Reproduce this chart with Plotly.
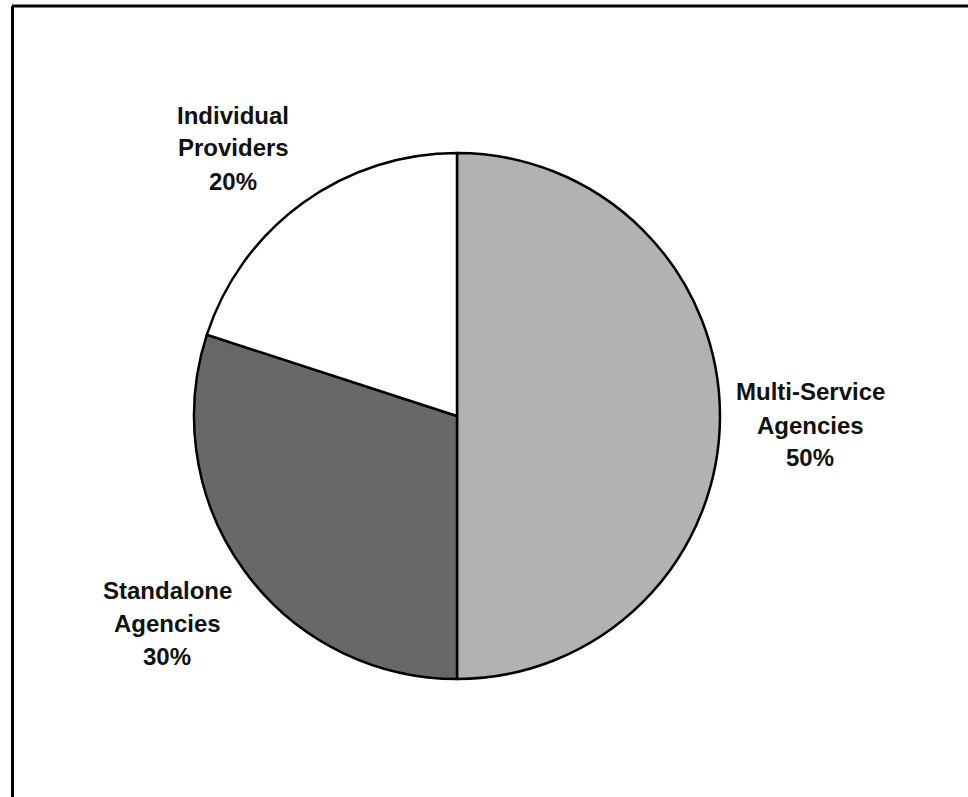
import plotly.graph_objects as go

# Data
categories = ["Multi-Service Agencies", "Standalone Agencies", "Individual Providers"]
shares = [50, 30, 20]

# Styles
slice_colors = ["#b2b2b2", "#686868", "#ffffff"]
label_pos = [(810, 425), (167, 623), (233, 148)]  # pixel centres of the label blocks
line_gap = 33

W, H = 968, 797
cx, cy, r = 457, 416, 263

fig = go.Figure(go.Pie(
    labels=categories,
    values=shares,
    sort=False,
    direction="clockwise",
    rotation=0,
    textinfo="none",
    hoverinfo="label+percent",
    marker=dict(colors=slice_colors, line=dict(color="#000000", width=2.5)),
    domain=dict(x=[(cx - r) / W, (cx + r) / W], y=[(H - cy - r) / H, (H - cy + r) / H]),
    showlegend=False,
))

annotations = []
for name, val, (px, py) in zip(categories, shares, label_pos):
    lines = name.split(" ") + [f"{val}%"]
    n = len(lines)
    for i, line in enumerate(lines):
        ly = py + (i - (n - 1) / 2) * line_gap
        annotations.append(dict(
            x=px / W, y=1 - ly / H, xref="paper", yref="paper",
            text=line, showarrow=False, xanchor="center", yanchor="middle",
            align="center",
            font=dict(family="Liberation Sans", size=24, color="#111111", weight="bold"),
        ))

shapes = [
    dict(type="line", xref="paper", yref="paper", x0=12 / W, x1=1, y0=1 - 6 / H, y1=1 - 6 / H,
         line=dict(color="#000000", width=3)),
    dict(type="line", xref="paper", yref="paper", x0=12.5 / W, x1=12.5 / W, y0=0, y1=1 - 6 / H,
         line=dict(color="#000000", width=3)),
]

fig.update_layout(
    width=W, height=H,
    margin=dict(l=0, r=0, t=0, b=0),
    paper_bgcolor="#ffffff",
    plot_bgcolor="#ffffff",
    annotations=annotations,
    shapes=shapes,
)

fig.write_html("out.html")
